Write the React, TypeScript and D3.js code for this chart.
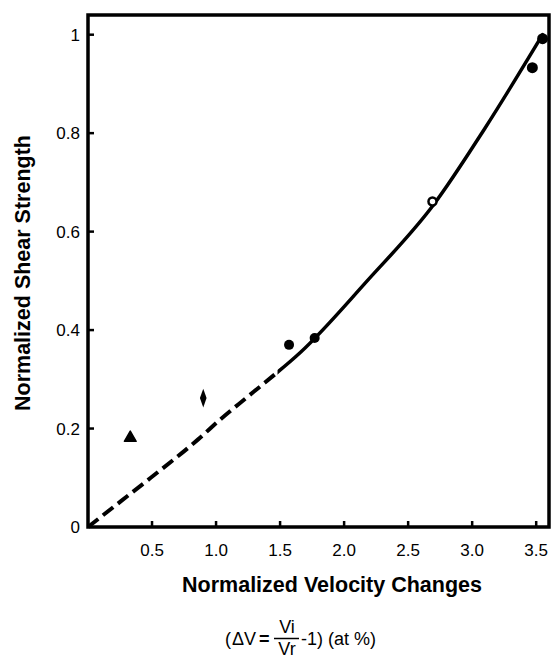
import React from "react";
import * as d3 from "d3";

// ---- data ----
const xTickValues = [0.5, 1.0, 1.5, 2.0, 2.5, 3.0, 3.5];
const xTickLabels = ["0.5", "1.0", "1.5", "2.0", "2.5", "3.0", "3.5"];
const yTickValues = [0, 0.2, 0.4, 0.6, 0.8, 1];
const yTickLabels = ["0", "0.2", "0.4", "0.6", "0.8", "1"];

// measured points
const pointX = [0.33, 0.9, 1.57, 1.77, 2.69, 3.47, 3.55];
const pointY = [0.181, 0.262, 0.37, 0.384, 0.661, 0.933, 0.992];
const pointMarker = ["triangle", "diamond", "dot", "dot", "open", "bigdot", "bigdot"];

// fitted curve; dashed below curveSplitX, solid above
const curveX = [0, 0.26, 0.49, 0.86, 1.04, 1.23, 1.38, 1.66, 2.18, 2.7, 3.1, 3.55];
const curveY = [0, 0.053, 0.1, 0.178, 0.22, 0.261, 0.293, 0.355, 0.5, 0.655, 0.81, 1.0];
const curveSplitX = [1.48];

const xTitle = "Normalized Velocity Changes";
const yTitle = "Normalized Shear Strength";

const W = 556;
const H = 658;
const left = 88;
const right = 549;
const top = 15;
const bottom = 527;

export default function App() {
  const x = d3.scaleLinear().domain([0, 3.6]).range([left, right]);
  const y = d3.scaleLinear().domain([0, 1.04]).range([bottom, top]);

  const line = d3
    .line<[number, number]>()
    .x((d) => x(d[0]))
    .y((d) => y(d[1]))
    .curve(d3.curveMonotoneX);

  const curvePath = line(curveX.map((v, i) => [v, curveY[i]]) as [number, number][]) || "";
  const splitPx = x(curveSplitX[0]);

  const font = "'Liberation Sans', Arial, Helvetica, sans-serif";

  const marker = (kind: string, cx: number, cy: number, i: number) => {
    if (kind === "triangle") {
      const p = d3.symbol().type(d3.symbolTriangle).size(60)() || "";
      return <path key={i} d={p} transform={`translate(${cx},${cy})`} fill="#000" stroke="#000" strokeWidth={1.5} strokeLinejoin="round" />;
    }
    if (kind === "diamond") {
      const p = d3.symbol().type(d3.symbolDiamond).size(60)() || "";
      return <path key={i} d={p} transform={`translate(${cx},${cy}) scale(0.8,1.3)`} fill="#000" />;
    }
    if (kind === "open") {
      return <circle key={i} cx={cx} cy={cy} r={4} fill="#fff" stroke="#000" strokeWidth={2.5} />;
    }
    const r = kind === "bigdot" ? 5.5 : 5;
    return <circle key={i} cx={cx} cy={cy} r={r} fill="#000" />;
  };

  return (
    <svg
      width={W}
      height={H}
      viewBox={`0 0 ${W} ${H}`}
      style={{ position: "absolute", left: 0, top: 0, background: "#fff" }}
    >
      <defs>
        <clipPath id="clipDashed">
          <rect x={0} y={0} width={splitPx} height={H} />
        </clipPath>
        <clipPath id="clipSolid">
          <rect x={splitPx} y={0} width={W - splitPx} height={H} />
        </clipPath>
      </defs>
      <rect x={0} y={0} width={W} height={H} fill="#fff" />
      {/* curve */}
      <path d={curvePath} fill="none" stroke="#000" strokeWidth={4} strokeDasharray="13,6" clipPath="url(#clipDashed)" />
      <path d={curvePath} fill="none" stroke="#000" strokeWidth={3.5} strokeLinecap="round" clipPath="url(#clipSolid)" />

      {/* points */}
      {pointX.map((v, i) => marker(pointMarker[i], x(v), y(pointY[i]), i))}

      {/* frame */}
      <rect x={left} y={top} width={right - left} height={bottom - top} fill="none" stroke="#000" strokeWidth={3.5} />

      {/* x ticks */}
      {xTickValues.map((v, i) => (
        <g key={"xt" + i}>
          <line x1={x(v)} x2={x(v)} y1={bottom} y2={bottom - 6} stroke="#000" strokeWidth={2.5} />
          <text x={x(v)} y={556} textAnchor="middle" fontFamily={font} fontSize={17} fill="#000">
            {xTickLabels[i]}
          </text>
        </g>
      ))}

      {/* y ticks */}
      {yTickValues.map((v, i) => (
        <g key={"yt" + i}>
          {v > 0 && <line x1={left} x2={left + 6} y1={y(v)} y2={y(v)} stroke="#000" strokeWidth={2.5} />}
          <text x={80} y={y(v) + 6} textAnchor="end" fontFamily={font} fontSize={17} fill="#000">
            {yTickLabels[i]}
          </text>
        </g>
      ))}

      {/* titles */}
      <text x={332} y={592} textAnchor="middle" fontFamily={font} fontSize={21.5} fontWeight="bold" fill="#000">
        {xTitle}
      </text>
      <text
        transform={`translate(30, 273) rotate(-90)`}
        textAnchor="middle"
        fontFamily={font}
        fontSize={21.5}
        fontWeight="bold"
        fill="#000"
      >
        {yTitle}
      </text>

      {/* formula */}
      <g fontFamily={font} fontSize={18} fill="#000">
        <text x={225} y={645}>(</text>
        <text x={232} y={645}>ΔV</text>
        <text x={259} y={645} fontWeight="bold">=</text>
        <text x={287} y={633} textAnchor="middle">Vi</text>
        <line x1={274} x2={299} y1={638.5} y2={638.5} stroke="#000" strokeWidth={1.5} />
        <text x={287} y={655} textAnchor="middle">Vr</text>
        <text x={301} y={645}>-1) (at %)</text>
      </g>
    </svg>
  );
}
